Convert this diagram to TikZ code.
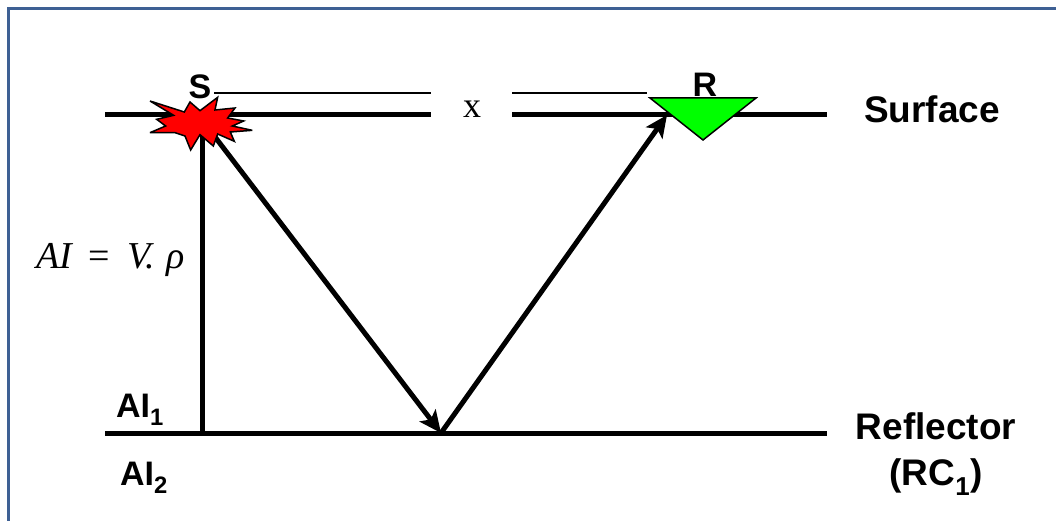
\documentclass[tikz,border=0pt]{standalone}
\usepackage{fontspec}
\setmainfont{Liberation Sans}
\newfontfamily\serifx{Liberation Serif}
\usetikzlibrary{arrows.meta}
\definecolor{frameblue}{RGB}{62,96,148}
\tikzset{
  every node/.style={inner sep=0pt,outer sep=0pt},
  lab/.style={font=\fontsize{34}{46}\selectfont\bfseries,align=center},
  biglab/.style={font=\fontsize{37}{46}\selectfont\bfseries,align=center},
  thick line/.style={line width=5pt,draw=black},
  thin line/.style={line width=1.8pt,draw=black},
  ray/.style={line width=5pt,draw=black,-{Stealth[length=22pt,width=20pt,inset=5pt]}},
  frame line/.style={line width=3pt,draw=frameblue}
}
\begin{document}
\begin{tikzpicture}[x=1pt,y=-1pt]
\useasboundingbox (0,0) rectangle (1056,521);
\fill[white] (0,0) rectangle (1056,521);
\coordinate (fb) at (8,521);
\coordinate (fc) at (8,8.5);
\coordinate (fr) at (1056,8.5);
\draw[frame line] (fb) -- (fc) -- (fr);
% surface and reflector
\coordinate (s1) at (105,115);
\coordinate (s2) at (431,115);
\coordinate (s3) at (512,115);
\coordinate (s4) at (827,115);
\coordinate (r1) at (105,433);
\coordinate (r2) at (827,433);
\coordinate (rp) at (441,433);
\coordinate (foot) at (202,433);
\coordinate (src) at (202,130);
\coordinate (srcb) at (212,133);
\coordinate (rcv) at (667,115);
\coordinate (t1) at (214,93);
\coordinate (t2) at (431,93);
\coordinate (t3) at (512,93);
\coordinate (t4) at (647,93);
\draw[thick line] (s1) -- (s2);
\draw[thick line] (s3) -- (s4);
\draw[thick line] (r1) -- (r2);
\draw[thin line] (t1) -- (t2);
\draw[thin line] (t3) -- (t4);
\draw[thick line] (foot) -- (src);
\draw[ray] (srcb) -- (rp);
\draw[ray] (rp) -- (rcv);
% star
\filldraw[fill=red,draw=black,line width=1.5pt,line join=miter,miter limit=4,shift={(145,90)},x=0.3333pt,y=-0.3333pt]
 (15,33) -- (118,66) -- (135,36) -- (165,62) -- (218,22) -- (210,60) -- (270,54) -- (248,84) -- (296,93) -- (262,108) -- (322,121) -- (256,126) -- (268,154) -- (218,132) -- (205,168) -- (165,134) -- (137,180) -- (120,138) -- (90,128) -- (15,128) -- (62,108) -- (35,88) -- (86,76) -- cycle;
% receiver
\filldraw[fill=green,draw=black,line width=1.5pt] (650,98) -- (756,98) -- (703,140) -- cycle;
% labels
\node[lab] (S) at (200,87) {S};
\node[lab] (R) at (705,85) {R};
\node[font=\serifx\fontsize{36}{40}\selectfont] (x) at (472,109) {x};
\node[biglab,anchor=west] (surface) at (864,109) {Surface};
\node[biglab] (refl) at (936,454) {Reflector\\(RC\textsubscript{1})};
\node[lab,anchor=west] (ai1) at (116,410) {AI\textsubscript{1}};
\node[lab,anchor=west] (ai2) at (120,478) {AI\textsubscript{2}};
\node[anchor=west,font=\serifx\fontsize{38}{40}\selectfont] (ai) at (36,260) {\itshape AI\hspace{17pt}{\upshape =}\hspace{17pt}V.\hspace{11pt}ρ};
\end{tikzpicture}
\end{document}
